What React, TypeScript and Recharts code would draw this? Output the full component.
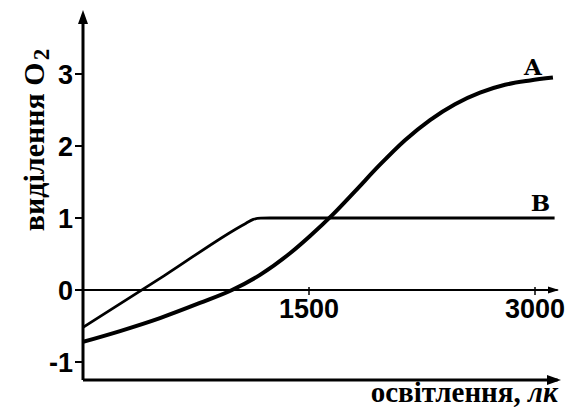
import React from 'react';
import { LineChart, Line, XAxis, YAxis, ReferenceLine, LabelList, Label } from 'recharts';

// ---- data (illumination in lux, O2 evolution in relative units) ----
const curveALux = [0, 246, 511, 776, 989, 1175, 1374, 1507, 1659, 1805, 1971, 2137, 2303, 2469, 2635, 2801, 2967, 3119];
const curveAValues = [-0.72, -0.57, -0.39, -0.18, 0, 0.21, 0.51, 0.75, 1.05, 1.37, 1.74, 2.08, 2.36, 2.58, 2.74, 2.85, 2.91, 2.95];
const curveBLux = [0, 540, 1080, 1130, 1180, 1240, 3130];
const curveBValues = [-0.52, 0.2, 0.925, 0.98, 0.998, 1.0, 1.0];
const seriesNames = ['A', 'B'];
const xTicks = [1500, 3000];
const yTicks = [-1, 0, 1, 2, 3];
const xTitle = 'освітлення, ';
const xTitleUnit = 'лк';
const yTitle = 'виділення O';
const yTitleSub = '2';

const W = 580;
const H = 409;
const MARGIN = { top: 20, right: 22.4, bottom: 28, left: 0 };
const Y_AXIS_W = 83;
const X_DOMAIN: [number, number] = [0, 3150];
const Y_DOMAIN: [number, number] = [-1.25, 3.75];
const PLOT_H = H - MARGIN.top - MARGIN.bottom - 1;
const ZERO_Y = MARGIN.top + ((Y_DOMAIN[1] - 0) / (Y_DOMAIN[1] - Y_DOMAIN[0])) * PLOT_H;

const dataA = curveALux.map((x, i) => ({ x, y: curveAValues[i] }));
const dataB = curveBLux.map((x, i) => ({ x, y: curveBValues[i] }));

const tickFont = { fontFamily: 'Liberation Sans, Arial, sans-serif', fontWeight: 700, fontSize: 27 };
const titleFamily = 'Liberation Serif, Times New Roman, serif';

const XTick = (props: any) => {
  const { x, payload } = props;
  return (
    <g>
      <line x1={x} x2={x} y1={ZERO_Y - 3} y2={ZERO_Y + 5} stroke="#000" strokeWidth={1.5} />
      <text x={x} y={ZERO_Y + 28} textAnchor="middle" fill="#000" {...tickFont}>
        {payload.value}
      </text>
    </g>
  );
};

const endLabel = (name: string, count: number, dx: number, dy: number) => (props: any) => {
  const { x, y, index } = props;
  if (index !== count - 1) return null;
  return (
    <text
      x={x + dx}
      y={y + dy}
      textAnchor="middle"
      fill="#000"
      fontFamily="DejaVu Serif, serif"
      fontWeight={700}
      fontSize={23}
    >
      {name}
    </text>
  );
};

const XTitle = (props: any) => {
  const vb = props.viewBox || {};
  const right = vb.x + vb.width;
  return (
    <text x={right} y={402} textAnchor="end" fill="#000" fontFamily={titleFamily} fontWeight={700} fontSize={29}>
      {xTitle}
      <tspan fontStyle="italic">{xTitleUnit}</tspan>
    </text>
  );
};

const YTitle = () => {
  const cx = 44;
  const cy = 140;
  return (
    <text
      x={cx}
      y={cy}
      transform={`rotate(-90 ${cx} ${cy})`}
      textAnchor="middle"
      fill="#000"
      fontFamily={titleFamily}
      fontWeight={700}
      fontSize={30}
    >
      {yTitle}
      <tspan dx={2} dy="0.2em" fontSize={23}>{yTitleSub}</tspan>
    </text>
  );
};

export default function App() {
  return (
    <div style={{ position: 'absolute', left: 0, top: 0, width: W, height: H, background: '#fff' }}>
      <LineChart width={W} height={H} margin={MARGIN}>
        <XAxis
          dataKey="x"
          type="number"
          domain={X_DOMAIN}
          ticks={xTicks}
          allowDataOverflow
          tickLine={false}
          tick={<XTick />}
          axisLine={{ stroke: '#000', strokeWidth: 3 }}
          height={1}
        >
          <Label content={<XTitle />} />
        </XAxis>
        <YAxis
          type="number"
          domain={Y_DOMAIN}
          ticks={yTicks}
          allowDataOverflow
          width={Y_AXIS_W}
          tickSize={8}
          tickLine={{ stroke: '#000', strokeWidth: 2 }}
          axisLine={{ stroke: '#000', strokeWidth: 3 }}
          tick={{ fill: '#000', ...tickFont }}
        >
          <Label content={<YTitle />} />
        </YAxis>
        <ReferenceLine y={0} stroke="#000" strokeWidth={2} />
        <Line
          data={dataB}
          dataKey="y"
          type="monotone"
          stroke="#000"
          strokeWidth={2.8}
          dot={false}
          isAnimationActive={false}
        >
          <LabelList dataKey="y" content={endLabel(seriesNames[1], dataB.length, -14, -7)} />
        </Line>
        <Line
          data={dataA}
          dataKey="y"
          type="monotone"
          stroke="#000"
          strokeWidth={4}
          dot={false}
          isAnimationActive={false}
        >
          <LabelList dataKey="y" content={endLabel(seriesNames[0], dataA.length, -20, -3)} />
        </Line>
      </LineChart>
      <svg
        width={W}
        height={H}
        style={{ position: 'absolute', left: 0, top: 0, pointerEvents: 'none' }}
      >
        <polygon points="83,10 78,24 88,24" fill="#000" />
        <polygon points="561,380 547,375 547,385" fill="#000" />
        <polygon points="559,290 548,286.5 548,293.5" fill="#000" />
      </svg>
    </div>
  );
}
